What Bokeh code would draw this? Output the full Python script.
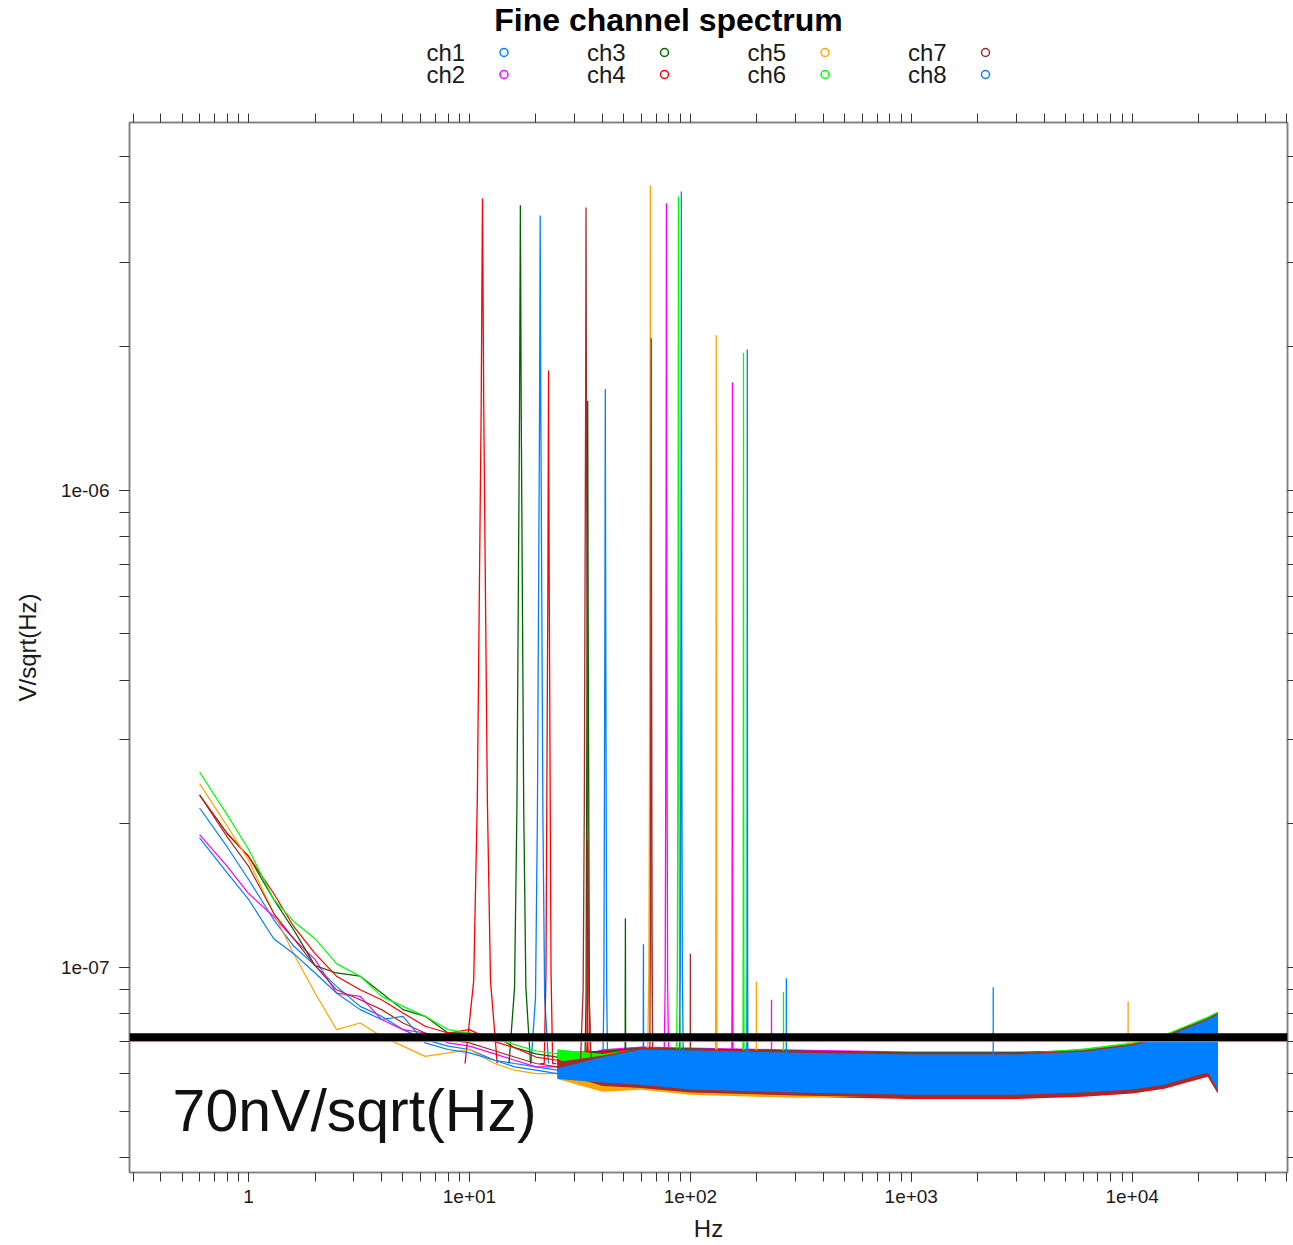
import numpy as np
from bokeh.plotting import figure
from bokeh.models import Range1d, LogAxis, Span, CustomJSTickFormatter, LogTicker, FixedTicker
from bokeh.layouts import column
from bokeh.embed import file_html
from bokeh.resources import INLINE
from bokeh.core.properties import value

FONT_NAME = "Liberation Sans"
FONT = value(FONT_NAME)

# ---------------- data ----------------
CHANNELS = ["ch1", "ch2", "ch3", "ch4", "ch5", "ch6", "ch7", "ch8"]
COLORS = ["#0080ff", "#ff00ff", "#006400", "#ff0000", "#ffa500", "#00ff00", "#a52a2a", "#0080ff"]

# low-frequency part of each spectrum (Hz, nV/sqrt(Hz))
LF_FREQ = [0.6, 0.8, 1.0, 1.3, 1.6, 2.0, 2.5, 3.2, 4.0, 5.0, 6.3, 8.0, 10, 13, 16, 20, 25, 30, 40]
LF_CH1 = [216, 179, 153, 126, 111, 101, 91.4, 83, 79.1, 74.2, 70.7, 68.5, 67.4, 64, 63, 62, 61, 60, 60]
LF_CH2 = [190, 163, 143, 128, 115, 104, 88.5, 87.1, 77.9, 74.2, 73, 69.6, 68.5, 66, 64, 62, 62, 61, 61]
LF_CH3 = [230, 191, 171, 139, 120, 101, 97.5, 96, 88.5, 81.7, 79.1, 73, 73, 72, 68, 66, 65, 63, 62]
LF_CH4 = [230, 191, 171, 143, 122, 107, 96, 89.9, 85.7, 80.4, 75.4, 73, 74.2, 70, 68, 65, 64, 62, 61]
LF_CH5 = [243, 198, 168, 130, 107, 88.5, 74.2, 76.6, 71.8, 68.5, 65.2, 66.3, 67.4, 63, 61, 60, 60, 58, 57]
LF_CH6 = [257, 209, 177, 139, 125, 115, 102, 96, 87.1, 83, 79.1, 74.2, 73, 71, 69, 67, 66, 64, 63]
LF_CH7 = [230, 188, 163, 130, 115, 101, 89.9, 85.7, 81.7, 76.6, 73, 70.7, 69.6, 67, 65, 63, 62, 60, 59]
LF_CH8 = [187, 158, 139, 115, 107, 97.5, 88.5, 81.7, 77.9, 79.1, 69.6, 67.4, 66.3, 64, 62, 61, 60, 60, 59]

# dense noise floor: per-channel envelope (Hz, nV/sqrt(Hz))
FLOOR_F = [25, 40, 60, 100, 300, 1000, 3000, 6000, 10000, 14000, 18000, 22000, 24400]
HI_CH1 = [62.5, 66.0, 67.1, 66.8, 66.1, 65.5, 65.5, 66.4, 68.4, 71.0, 74.5, 77.4, 79.4]
LO_CH1 = [59.5, 57.5, 57.1, 55.8, 55.0, 54.4, 54.4, 55.0, 55.8, 57.1, 59.0, 60.5, 55.8]
HI_CH2 = [63.5, 67.5, 68.4, 68.1, 67.4, 66.8, 66.8, 67.0, 69.0, 71.8, 75.3, 78.2, 80.2]
LO_CH2 = [60.5, 58.0, 57.2, 55.9, 55.1, 54.5, 54.5, 55.1, 55.9, 57.2, 59.1, 60.6, 55.9]
HI_CH3 = [66.5, 67.0, 68.1, 67.8, 67.1, 66.5, 66.5, 67.4, 69.4, 72.1, 75.6, 78.6, 80.6]
LO_CH3 = [63.5, 57.0, 56.2, 54.9, 54.1, 53.5, 53.5, 54.1, 54.9, 56.2, 58.1, 59.6, 54.9]
HI_CH4 = [65.5, 66.5, 67.9, 67.6, 66.9, 66.3, 66.3, 67.2, 69.2, 71.9, 75.4, 78.3, 80.4]
LO_CH4 = [62.5, 56.5, 55.8, 54.5, 53.7, 53.1, 53.1, 53.7, 54.5, 55.8, 57.6, 59.1, 54.5]
HI_CH5 = [61.5, 64.0, 67.6, 67.3, 66.6, 66.0, 66.0, 66.9, 69.7, 72.5, 75.1, 78.0, 80.0]
LO_CH5 = [58.5, 55.0, 55.5, 54.2, 53.4, 53.9, 53.9, 54.5, 55.3, 56.6, 58.5, 60.0, 55.3]
HI_CH6 = [67.5, 66.0, 67.7, 67.4, 66.7, 66.1, 66.1, 67.7, 69.7, 72.5, 76.0, 79.0, 81.0]
LO_CH6 = [64.5, 58.0, 56.3, 55.0, 54.3, 53.7, 53.7, 54.3, 55.0, 56.3, 58.2, 59.7, 55.0]
HI_CH7 = [63.5, 65.5, 67.9, 67.6, 66.9, 66.3, 66.3, 67.2, 69.2, 72.0, 75.5, 78.4, 80.4]
LO_CH7 = [60.5, 56.5, 56.0, 54.8, 54.0, 53.4, 53.4, 54.0, 54.8, 56.0, 57.9, 59.4, 54.8]
HI_CH8 = [61.5, 65.0, 67.4, 67.1, 66.4, 65.8, 65.8, 66.7, 68.7, 71.4, 74.9, 77.8, 79.8]
LO_CH8 = [58.5, 57.5, 56.9, 55.6, 54.8, 54.2, 54.2, 54.8, 55.6, 56.9, 58.8, 60.3, 55.6]

# spectral lines (Hz, V/sqrt(Hz))
PK_F_CH1 = [20.9, 41.2, 61.3]
PK_V_CH1 = [3.76e-6, 1.63e-6, 1.12e-7]
PK_F_CH2 = [77.9, 155, 233]
PK_V_CH2 = [3.99e-6, 1.68e-6, 8.57e-8]
PK_F_CH3 = [17.0, 34.3, 50.8]
PK_V_CH3 = [3.95e-6, 1.54e-6, 1.27e-7]
PK_F_CH4 = [11.45, 22.8, 34.2]
PK_V_CH4 = [4.08e-6, 1.78e-6, 1.85e-7]
PK_F_CH5 = [65.9, 131, 199, 9590]
PK_V_CH5 = [4.35e-6, 2.11e-6, 9.35e-8, 8.5e-8]
PK_F_CH6 = [88.3, 174, 264]
PK_V_CH6 = [4.12e-6, 1.94e-6, 8.9e-8]
PK_F_CH7 = [33.7, 66.5, 100]
PK_V_CH7 = [3.91e-6, 2.08e-6, 1.07e-7]
PK_F_CH8 = [91.0, 181, 272, 2350]
PK_V_CH8 = [4.22e-6, 1.97e-6, 9.5e-8, 9.1e-8]

# shape of a line: offset in Hz, level relative to the top
WINDOW_DF = [-1.9, -1.0, -0.6, -0.15, 0.0, 0.15, 0.6, 1.0, 1.9]
WINDOW_REL = [0.0, 0.023, 0.055, 0.37, 1.0, 0.37, 0.055, 0.023, 0.0]
PEAK_BASE = 63e-9

LIMIT_LINE = 70e-9        # original thin reference line
MARKER_LINE = 71.5e-9     # thick black line drawn over it
NOTE = "70nV/sqrt(Hz)"
NOTE_X, NOTE_Y = 0.453, 5.02e-8

TITLE = "Fine channel spectrum"
X_LABEL = "Hz"
Y_LABEL = "V/sqrt(Hz)"
X_RANGE = (0.289, 50500)
Y_RANGE = (3.725e-8, 5.889e-6)

LF = [LF_CH1, LF_CH2, LF_CH3, LF_CH4, LF_CH5, LF_CH6, LF_CH7, LF_CH8]
HI = [HI_CH1, HI_CH2, HI_CH3, HI_CH4, HI_CH5, HI_CH6, HI_CH7, HI_CH8]
LO = [LO_CH1, LO_CH2, LO_CH3, LO_CH4, LO_CH5, LO_CH6, LO_CH7, LO_CH8]
PKF = [PK_F_CH1, PK_F_CH2, PK_F_CH3, PK_F_CH4, PK_F_CH5, PK_F_CH6, PK_F_CH7, PK_F_CH8]
PKV = [PK_V_CH1, PK_V_CH2, PK_V_CH3, PK_V_CH4, PK_V_CH5, PK_V_CH6, PK_V_CH7, PK_V_CH8]

# ---------------- layout constants ----------------
W, H = 1293, 1245
HEAD_H = 100
FRAME_L, FRAME_R = 129, 1287   # the header frame is aligned with the plot frame

# ---------------- header (title + key) ----------------
head = figure(width=W, height=HEAD_H, x_range=Range1d(FRAME_L, FRAME_R), y_range=Range1d(HEAD_H, 0),
              x_axis_location=None, y_axis_location=None, toolbar_location=None,
              min_border=0, output_backend="svg", outline_line_color=None)
head.grid.visible = False
head.text(x=[668], y=[19.5], text=[TITLE], text_font=FONT, text_font_size="32px",
          text_font_style="bold", text_align="center", text_baseline="alphabetic",
          text_color="#000000")
kx = [426 + (i // 2) * 160.5 for i in range(len(CHANNELS))]
ky = [52 + (i % 2) * 21.5 for i in range(len(CHANNELS))]
cx = [x + 77.5 for x in kx]
cy = [52 + (i % 2) * 22 for i in range(len(CHANNELS))]
head.text(x=kx, y=ky, text=CHANNELS, text_font=FONT, text_font_size="24px",
          text_align="left", text_baseline="alphabetic", text_color="#1a1a1a")
head.scatter(x=cx, y=cy, marker="circle", size=8, fill_color=None,
             line_color=COLORS, line_width=1.5)

# ---------------- main plot ----------------
p = figure(width=W, height=H - HEAD_H, x_axis_type="log", y_axis_type="log",
           x_range=Range1d(*X_RANGE), y_range=Range1d(*Y_RANGE),
           toolbar_location=None, output_backend="svg",
           min_border_left=FRAME_L, min_border_right=W - FRAME_R,
           min_border_top=22, min_border_bottom=73)
p.xgrid.visible = False
p.ygrid.visible = False
p.outline_line_color = "#808080"
p.outline_line_width = 1.5
p.background_fill_color = "white"
p.border_fill_color = "white"

fmt = CustomJSTickFormatter(code="""
const e = Math.round(Math.log10(tick));
if (e == 0) { return "1"; }
return "1e" + (e < 0 ? "-" : "+") + String(Math.abs(e)).padStart(2, "0");
""")

minor_x = [m * 10.0 ** e for e in range(-1, 5) for m in range(1, 10)
           if X_RANGE[0] <= m * 10.0 ** e <= X_RANGE[1]]
minor_y = [m * 10.0 ** e for e in range(-8, -5) for m in range(1, 10)
           if Y_RANGE[0] <= m * 10.0 ** e <= Y_RANGE[1]]
top_ax = LogAxis(ticker=FixedTicker(ticks=[], minor_ticks=minor_x))
right_ax = LogAxis(ticker=FixedTicker(ticks=[], minor_ticks=minor_y))
p.add_layout(top_ax, "above")
p.add_layout(right_ax, "right")

for ax in p.axis:
    ax.major_tick_in = 0
    ax.minor_tick_in = 0
    ax.major_tick_out = 9
    ax.minor_tick_out = 9
    ax.major_tick_line_color = "#333333"
    ax.minor_tick_line_color = "#333333"
    ax.axis_line_color = "#808080"
    ax.axis_line_width = 1.5
    ax.major_label_text_font = FONT_NAME
    ax.major_label_text_font_size = "19px"
    ax.major_label_text_color = "#1a1a1a"
    ax.axis_label_text_font = FONT_NAME
    ax.axis_label_text_font_style = "normal"
    ax.axis_label_text_font_size = "24px"
    ax.axis_label_text_color = "#1a1a1a"

for ax in (p.below[0], p.left[0]):
    ax.ticker = LogTicker(num_minor_ticks=10)
    ax.formatter = fmt

right_ax.minor_tick_out = 6
p.left[0].major_tick_out = 10
p.left[0].minor_tick_out = 10
p.below[0].axis_label = X_LABEL
p.below[0].major_label_standoff = 8
p.below[0].axis_label_standoff = 9
p.left[0].axis_label = Y_LABEL
p.left[0].major_label_standoff = 10
p.left[0].axis_label_standoff = 17

for i, ch in enumerate(CHANNELS):
    c = COLORS[i]
    p.varea(x=FLOOR_F, y1=[v * 1e-9 for v in LO[i]], y2=[v * 1e-9 for v in HI[i]],
            fill_color=c)
    p.line(LF_FREQ, [v * 1e-9 for v in LF[i]], line_color=c, line_width=1.2)
    xs, ys = [], []
    for f, h in zip(PKF[i], PKV[i]):
        xs.append([f + d for d in WINDOW_DF])
        ys.append([max(PEAK_BASE, h * r) for r in WINDOW_REL])
    p.multi_line(xs, ys, line_color=c, line_width=1.3)

p.add_layout(Span(location=LIMIT_LINE, dimension="width", line_color="#ff9a9a", line_width=1))
p.add_layout(Span(location=MARKER_LINE, dimension="width", line_color="#000000", line_width=8))
p.text(x=[NOTE_X], y=[NOTE_Y], text=[NOTE], text_font=FONT, text_font_size="59px",
       text_align="left", text_baseline="alphabetic", text_color="#111111")

layout = column(head, p, spacing=0)
open("out.html", "w").write(file_html(layout, INLINE))
